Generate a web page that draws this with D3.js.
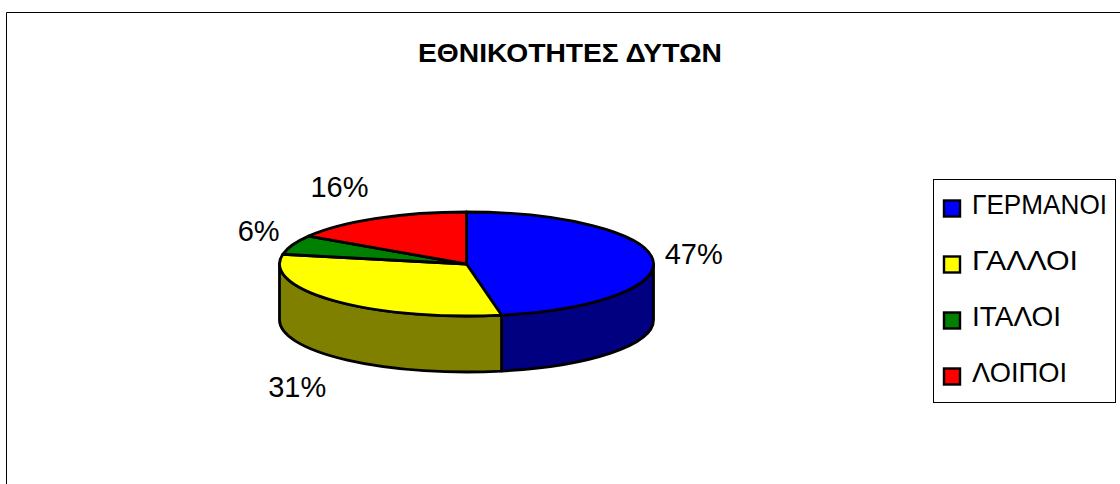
<!DOCTYPE html>
<html>
<head>
<meta charset="utf-8">
<script src="https://cdn.jsdelivr.net/npm/d3@7"></script>
<style>
  html, body { margin: 0; padding: 0; background: #fff; }
  svg { display: block; }
  text { font-family: "Liberation Sans", Arial, sans-serif; fill: #000; }
</style>
</head>
<body>
<div id="chart-container"></div>
<script>
// Chart data
const chartTitle = "ΕΘΝΙΚΟΤΗΤΕΣ ΔΥΤΩΝ";
const categories = ["ΓΕΡΜΑΝΟΙ", "ΓΑΛΛΟΙ", "ΙΤΑΛΟΙ", "ΛΟΙΠΟΙ"];
const values = [47, 31, 6, 16];
const topColors = ["#0000ff", "#ffff00", "#008000", "#ff0000"];
const sideColors = ["#000080", "#808000", "#004000", "#800000"];

// Dimensions
const width = 1120, height = 484;
const cx = 466.5, cy = 264, rx = 187, ry = 52, depth = 56;

const svg = d3.select("#chart-container")
    .append("svg")
    .attr("width", width)
    .attr("height", height);

// Outer frame (runs off the right and bottom of the picture)
svg.append("path")
    .attr("d", "M6.5," + height + "V12.5H" + width)
    .attr("fill", "none")
    .attr("stroke", "#000")
    .attr("stroke-width", 1);

svg.append("text")
    .attr("x", 570)
    .attr("y", 62)
    .attr("text-anchor", "middle")
    .attr("font-size", 26)
    .attr("font-weight", "bold")
    .attr("textLength", 304)
    .attr("lengthAdjust", "spacingAndGlyphs")
    .text(chartTitle);

// Slice angles, clockwise from twelve o'clock
const pie = d3.pie().sort(null);
const slices = pie(values);

// Point on the top ellipse for a pie angle
const px = a => cx + rx * Math.sin(a);
const py = a => cy - ry * Math.cos(a);

// Flat slice on the top of the pie
const topPath = d => {
    const large = d.endAngle - d.startAngle > Math.PI ? 1 : 0;
    return "M" + cx + "," + cy +
        "L" + px(d.startAngle) + "," + py(d.startAngle) +
        "A" + rx + "," + ry + " 0 " + large + " 1 " + px(d.endAngle) + "," + py(d.endAngle) + "Z";
};

// Visible rim below a slice, only the front half (90 to 270 degrees) shows
const sidePath = d => {
    const a0 = Math.max(d.startAngle, Math.PI / 2);
    const a1 = Math.min(d.endAngle, Math.PI * 1.5);
    if (a1 <= a0) return null;
    return "M" + px(a0) + "," + py(a0) +
        "A" + rx + "," + ry + " 0 0 1 " + px(a1) + "," + py(a1) +
        "L" + px(a1) + "," + (py(a1) + depth) +
        "A" + rx + "," + ry + " 0 0 0 " + px(a0) + "," + (py(a0) + depth) + "Z";
};

const strokeW = 2.8;

svg.append("g").selectAll("path")
    .data(slices.filter(d => sidePath(d)))
    .enter().append("path")
    .attr("d", sidePath)
    .attr("fill", d => sideColors[d.index])
    .attr("stroke", "#000")
    .attr("stroke-width", strokeW)
    .attr("stroke-linejoin", "round");

svg.append("g").selectAll("path")
    .data(slices)
    .enter().append("path")
    .attr("d", topPath)
    .attr("fill", d => topColors[d.index])
    .attr("stroke", "#000")
    .attr("stroke-width", strokeW)
    .attr("stroke-linejoin", "round");

// Percent labels, pushed away from the middle of each slice
const labelNudge = [[41, -5], [-37, 86], [-34, -14], [-37, -31]];
svg.append("g").selectAll("text")
    .data(slices)
    .enter().append("text")
    .attr("x", d => px((d.startAngle + d.endAngle) / 2) + labelNudge[d.index][0])
    .attr("y", d => py((d.startAngle + d.endAngle) / 2) + labelNudge[d.index][1])
    .attr("text-anchor", "middle")
    .attr("dominant-baseline", "central")
    .attr("font-size", 29)
    .text(d => d.value + "%");

// Legend
const legendY = d3.scalePoint()
    .domain(categories)
    .range([208.5, 376.5]);

// Rendered widths of the legend labels, the reference type is set tight
const legendTextWidth = [135, 106, 89, 95];

svg.append("rect")
    .attr("x", 933.5)
    .attr("y", 179.5)
    .attr("width", 182)
    .attr("height", 223)
    .attr("fill", "#fff")
    .attr("stroke", "#000")
    .attr("stroke-width", 1);

const legend = svg.selectAll(".legend")
    .data(categories)
    .enter().append("g")
    .attr("class", "legend")
    .attr("transform", d => "translate(0," + legendY(d) + ")");

legend.append("rect")
    .attr("x", 944)
    .attr("y", -8)
    .attr("width", 16)
    .attr("height", 16)
    .attr("fill", (d, i) => topColors[i])
    .attr("stroke", "#000")
    .attr("stroke-width", 2.4);

legend.append("text")
    .attr("x", 972)
    .attr("y", -4)
    .attr("dominant-baseline", "central")
    .attr("font-size", 28)
    .attr("textLength", (d, i) => legendTextWidth[i])
    .attr("lengthAdjust", "spacingAndGlyphs")
    .text(d => d);
</script>
</body>
</html>
